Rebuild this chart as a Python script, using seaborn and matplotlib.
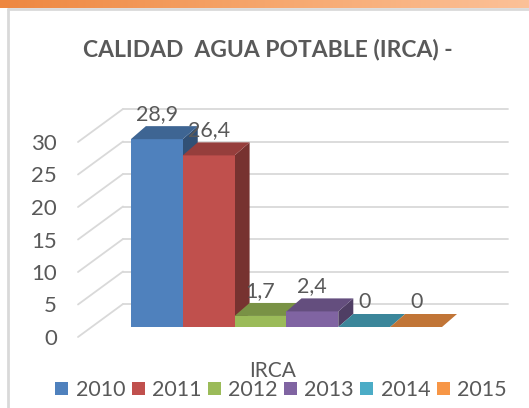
import numpy as np
import pandas as pd
import matplotlib
matplotlib.use("Agg")
import matplotlib.pyplot as plt
import matplotlib.transforms as mtransforms
from matplotlib.patches import Polygon
from matplotlib.lines import Line2D
import matplotlib.colors as mcolors
import seaborn as sns

# ---------------- data ----------------
categoria = ["IRCA"]
anios = ["2010", "2011", "2012", "2013", "2014", "2015"]
valores = [28.9, 26.4, 1.7, 2.4, 0, 0]
colores = ["#4f81bd", "#c0504d", "#9bbb59", "#8064a2", "#4bacc6", "#f79646"]
yticks = [0, 5, 10, 15, 20, 25, 30]
titulo = "CALIDAD  AGUA POTABLE (IRCA) -"

df = pd.DataFrame({"indicador": categoria * len(anios), "anio": anios, "valor": valores})

sns.set_style("white")
plt.rcParams["font.family"] = ["Lato", "DejaVu Sans"]
TXT = "#595959"
GRID = "#d9d9d9"

W, H = 529, 408
fig = plt.figure(figsize=(W / 100, H / 100), dpi=100)

# frame: orange gradient band + gray border
band = fig.add_axes([0, 1 - 8 / H, 1, 8 / H])
grad = np.linspace(0, 1, 256)[None, :]
cmap = mcolors.LinearSegmentedColormap.from_list("band", ["#ee8740", "#f6a66c", "#fcc198"])
band.imshow(grad, aspect="auto", cmap=cmap, extent=[0, 1, 0, 1])
band.set_axis_off()
fig.add_artist(Line2D([8 / W, 1], [1 - 9 / H, 1 - 9 / H], transform=fig.transFigure, color=GRID, lw=2))
fig.add_artist(Line2D([8 / W, 8 / W], [0, 1 - 9 / H], transform=fig.transFigure, color=GRID, lw=2))

# axes = floor-front plane
ax = fig.add_axes([78 / W, (H - 337) / H, 385 / W, 195 / H])
sns.barplot(data=df, x="indicador", y="valor", hue="anio", palette=colores,
            saturation=1, width=0.8, ax=ax, linewidth=0)
ax.set_ylim(0, 30)
ax.set_xlim(-0.5, 0.49)
for s in ax.spines.values():
    s.set_visible(False)
ax.set_xlabel("")
ax.set_ylabel("")
ax.set_yticks(yticks)
ax.set_yticklabels([str(v) for v in yticks])
ax.tick_params(axis="y", length=0, pad=15, labelsize=16, labelcolor=TXT)
ax.tick_params(axis="x", length=0, pad=17, labelsize=15, labelcolor=TXT)
ax.patch.set_alpha(0)

handles, labels = ax.get_legend_handles_labels()
if ax.get_legend() is not None:
    ax.get_legend().remove()

# depth offsets (pixels)
FRONT = np.array([14.0, 10.0])    # floor front -> bar front
BACK = FRONT + np.array([15.0, 13.0])  # bar back
WALL = np.array([45.0, 33.0])     # floor front -> back wall

def off(dx, dy):
    return mtransforms.offset_copy(ax.transData, fig=fig, x=dx, y=dy, units="dots")

x0, x1 = ax.get_xlim()
for v in yticks:
    ax.plot([x0, x1], [v, v], color=GRID, lw=1.3, transform=off(*WALL), zorder=0, clip_on=False)
    p0 = ax.transData.transform((x0, v))
    ax.add_line(Line2D([p0[0], p0[0] + WALL[0]], [p0[1], p0[1] + WALL[1]],
                       transform=mtransforms.IdentityTransform(), color=GRID, lw=1.3,
                       zorder=0, clip_on=False))

def shade(c, f):
    r, g, b = mcolors.to_rgb(c)
    return (r * f, g * f, b * f)

def disp(x, y, o):
    return ax.transData.transform((x, y)) + o

bars = sorted([p for p in ax.patches if p.get_width() > 0], key=lambda p: p.get_x())
for i, p in enumerate(bars):
    xa = p.get_x()
    xb = xa + p.get_width()
    h = p.get_height()
    col = p.get_facecolor()
    z = 2 + i * 0.1
    p.set_transform(off(*FRONT))
    p.set_zorder(z + 0.01)
    p.set_clip_on(False)
    top = [disp(xa, h, FRONT), disp(xb, h, FRONT), disp(xb, h, BACK), disp(xa, h, BACK)]
    side = [disp(xb, 0, FRONT), disp(xb, h, FRONT), disp(xb, h, BACK), disp(xb, 0, BACK)]
    ax.add_patch(Polygon(side, closed=True, facecolor=shade(col, 0.62), lw=0,
                         transform=mtransforms.IdentityTransform(), zorder=z, clip_on=False))
    ax.add_patch(Polygon(top, closed=True, facecolor=shade(col, 0.78), lw=0,
                         transform=mtransforms.IdentityTransform(), zorder=z + 0.02, clip_on=False))
    lab = ("%g" % h).replace(".", ",")
    ax.annotate(lab, (xa + p.get_width() / 2, h), xytext=(FRONT[0], FRONT[1] + 25),
                textcoords="offset pixels", ha="center", va="center",
                fontsize=15.5, color=TXT, zorder=10)

fig.text(268 / W, 1 - 50 / H, titulo, ha="center", va="center",
         fontsize=16.5, fontweight="bold", color=TXT)

leg = fig.legend(handles, labels, loc="center", bbox_to_anchor=(281 / W, 1 - 390 / H),
                 ncol=6, frameon=False, fontsize=15.5, labelcolor=TXT,
                 handlelength=0.6, handleheight=0.6, handletextpad=0.34,
                 columnspacing=0.3, borderpad=0, borderaxespad=0)

fig.savefig("out.png", dpi=100, facecolor="white")
